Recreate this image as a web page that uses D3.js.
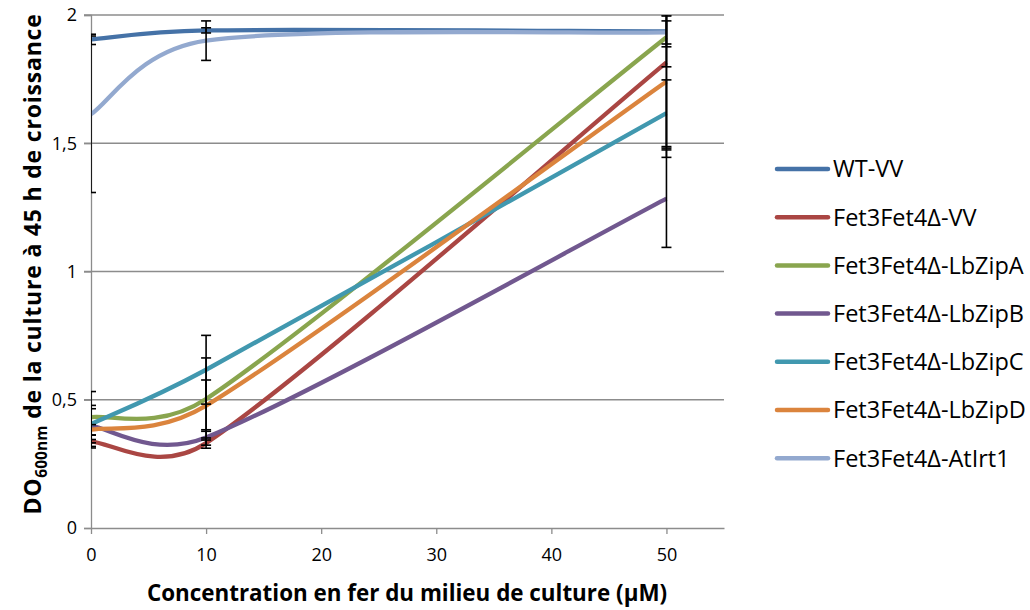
<!DOCTYPE html>
<html>
<head>
<meta charset="utf-8">
<script src="https://cdn.jsdelivr.net/npm/d3@7"></script>
<style>
  body { margin: 0; background: #fff; }
  text { font-family: "Open Sans", sans-serif; fill: #000; }
</style>
</head>
<body>
<div id="chart"></div>
<script>
// concentrations (µM) and DO600 values
const concentrations = [0, 10, 50];
const seriesNames = ["WT-VV", "Fet3Fet4Δ-VV", "Fet3Fet4Δ-LbZipA", "Fet3Fet4Δ-LbZipB",
  "Fet3Fet4Δ-LbZipC", "Fet3Fet4Δ-LbZipD", "Fet3Fet4Δ-AtIrt1"];
const wtVV    = [1.905, 1.940, 1.936];
const fetVV   = [0.337, 0.331, 1.815];
const lbZipA  = [0.432, 0.503, 1.913];
const lbZipB  = [0.398, 0.353, 1.284];
const lbZipC  = [0.405, 0.617, 1.617];
const lbZipD  = [0.383, 0.477, 1.741];
const atIrt1  = [1.613, 1.900, 1.932];
// error bar half-widths
const errWT   = [0.02, 0.01, 0.06];
const errVV   = [0.025, 0.02, 0.37];
const errA    = [0.10, 0.16, 0.115];
const errB    = [0.08, 0.03, 0.19];
const errC    = [0.06, 0.134, 0.13];
const errD    = [0.02, 0.10, 0.26];
const errIrt  = [0.305, 0.077, 0.045];
const yTicks = [0, 0.5, 1, 1.5, 2];
const xTicks = [0, 10, 20, 30, 40, 50];

const colors = ["#4572A7", "#AA4643", "#89A54E", "#71588F", "#4198AF", "#DB843D", "#93A9CF"];

const series = [wtVV, fetVV, lbZipA, lbZipB, lbZipC, lbZipD, atIrt1].map((vals, i) => ({
  name: seriesNames[i],
  color: colors[i],
  values: vals,
  errors: [errWT, errVV, errA, errB, errC, errD, errIrt][i]
}));

const width = 1030, height = 610;
const plot = { left: 91, right: 724, top: 15, bottom: 528 };

const svg = d3.select("#chart").append("svg")
  .attr("width", width)
  .attr("height", height);

svg.append("defs").append("clipPath").attr("id", "plot-clip")
  .append("rect")
  .attr("x", plot.left).attr("y", plot.top)
  .attr("width", plot.right - plot.left).attr("height", plot.bottom - plot.top);

const x = d3.scaleLinear().domain([0, 55]).range([plot.left, plot.right]);
const y = d3.scaleLinear().domain([0, 2]).range([plot.bottom, plot.top]);

const fr = d3.formatLocale({ decimal: ",", thousands: " ", grouping: [3], currency: ["", "€"] });
const fmt = fr.format("~g");

// gridlines
svg.append("g")
  .selectAll("line")
  .data(yTicks.filter(d => d > 0))
  .join("line")
  .attr("x1", plot.left - 7).attr("x2", plot.right)
  .attr("y1", d => y(d)).attr("y2", d => y(d))
  .attr("stroke", "#8c8c8c").attr("stroke-width", 1.3);

// y axis
const yAxis = svg.append("g")
  .attr("transform", `translate(${plot.left},0)`)
  .call(d3.axisLeft(y).tickValues(yTicks).tickFormat(fmt).tickSize(7).tickPadding(7));
yAxis.select(".domain").attr("stroke", "#8c8c8c").attr("stroke-width", 1.3);
yAxis.selectAll(".tick line").attr("stroke", "#8c8c8c").attr("stroke-width", 1.3);
yAxis.selectAll(".tick text").style("font-size", "18px").attr("font-family", null);

// x axis
const xAxis = svg.append("g")
  .attr("transform", `translate(0,${plot.bottom})`)
  .call(d3.axisBottom(x).tickValues(xTicks).tickSize(6).tickSizeOuter(0).tickPadding(14));
xAxis.select(".domain").attr("stroke", "#8c8c8c").attr("stroke-width", 1.3);
xAxis.selectAll(".tick line").attr("stroke", "#8c8c8c").attr("stroke-width", 1.3);
xAxis.selectAll(".tick text").style("font-size", "18px").attr("font-family", null);

// Excel-like smoothed line: bezier with 1/6 tangents, limited on short segments
function smoothPath(pts) {
  const p = d3.path();
  const n = pts.length;
  const dist = (a, b) => Math.hypot(b[0] - a[0], b[1] - a[1]);
  p.moveTo(pts[0][0], pts[0][1]);
  for (let i = 0; i < n - 1; i++) {
    const p0 = pts[Math.max(i - 1, 0)], p1 = pts[i], p2 = pts[i + 1], p3 = pts[Math.min(i + 2, n - 1)];
    const d12 = dist(p1, p2), d02 = dist(p0, p2), d13 = dist(p1, p3);
    let f = 1 / 6, g = 1 / 6;
    if (d02 / 6 >= d12 / 2) f = d12 / (2 * d02);
    if (d13 / 6 >= d12 / 2) g = d12 / (2 * d13);
    p.bezierCurveTo(
      p1[0] + f * (p2[0] - p0[0]), p1[1] + f * (p2[1] - p0[1]),
      p2[0] - g * (p3[0] - p1[0]), p2[1] - g * (p3[1] - p1[1]),
      p2[0], p2[1]);
  }
  return p.toString();
}

const linesG = svg.append("g").attr("clip-path", "url(#plot-clip)");
linesG.selectAll("path")
  .data(series)
  .join("path")
  .attr("d", s => smoothPath(s.values.map((v, i) => [x(concentrations[i]), y(v)])))
  .attr("fill", "none")
  .attr("stroke", s => s.color)
  .attr("stroke-width", 4.3)
  .attr("stroke-linejoin", "round");

// error bars
const errData = [];
series.forEach(s => s.values.forEach((v, i) => {
  errData.push({ c: concentrations[i], lo: v - s.errors[i], hi: v + s.errors[i] });
}));
const errG = svg.append("g").attr("clip-path", "url(#plot-clip)")
  .attr("stroke", "#000").attr("stroke-width", 1.6);
errG.selectAll(".err-v")
  .data(errData)
  .join("line")
  .attr("class", "err-v")
  .attr("x1", d => x(d.c)).attr("x2", d => x(d.c))
  .attr("y1", d => y(d.lo)).attr("y2", d => y(d.hi));
errG.selectAll(".err-cap")
  .data(errData.flatMap(d => [{ c: d.c, v: d.lo }, { c: d.c, v: d.hi }]))
  .join("line")
  .attr("class", "err-cap")
  .attr("x1", d => x(d.c) - 5).attr("x2", d => x(d.c) + 5)
  .attr("y1", d => y(d.v)).attr("y2", d => y(d.v));

// axis titles
svg.append("text")
  .attr("x", 407)
  .attr("y", 601)
  .attr("text-anchor", "middle")
  .style("font-size", "22.4px")
  .style("font-weight", "bold")
  .text("Concentration en fer du milieu de culture (µM)");

const yTitle = svg.append("text")
  .attr("transform", "translate(41,264) rotate(-90)")
  .attr("text-anchor", "middle")
  .style("font-size", "23px")
  .style("font-weight", "bold")
  .style("letter-spacing", "0.8px");
yTitle.append("tspan").text("DO");
yTitle.append("tspan").attr("dy", 6).style("font-size", "15.5px").style("letter-spacing", "0px").text("600nm");
yTitle.append("tspan").attr("dy", -6).text(" de la culture à 45 h de croissance");

// legend
const legend = svg.append("g").attr("transform", "translate(775,169)");
const rows = legend.selectAll("g")
  .data(series)
  .join("g")
  .attr("transform", (d, i) => `translate(0,${i * 48.2})`);
rows.append("line")
  .attr("x1", 2).attr("x2", 53)
  .attr("stroke", d => d.color)
  .attr("stroke-width", 4.5)
  .attr("stroke-linecap", "round");
rows.append("text")
  .attr("x", 58)
  .attr("dy", "0.36em")
  .style("font-size", "23.5px")
  .text(d => d.name);
</script>
</body>
</html>
